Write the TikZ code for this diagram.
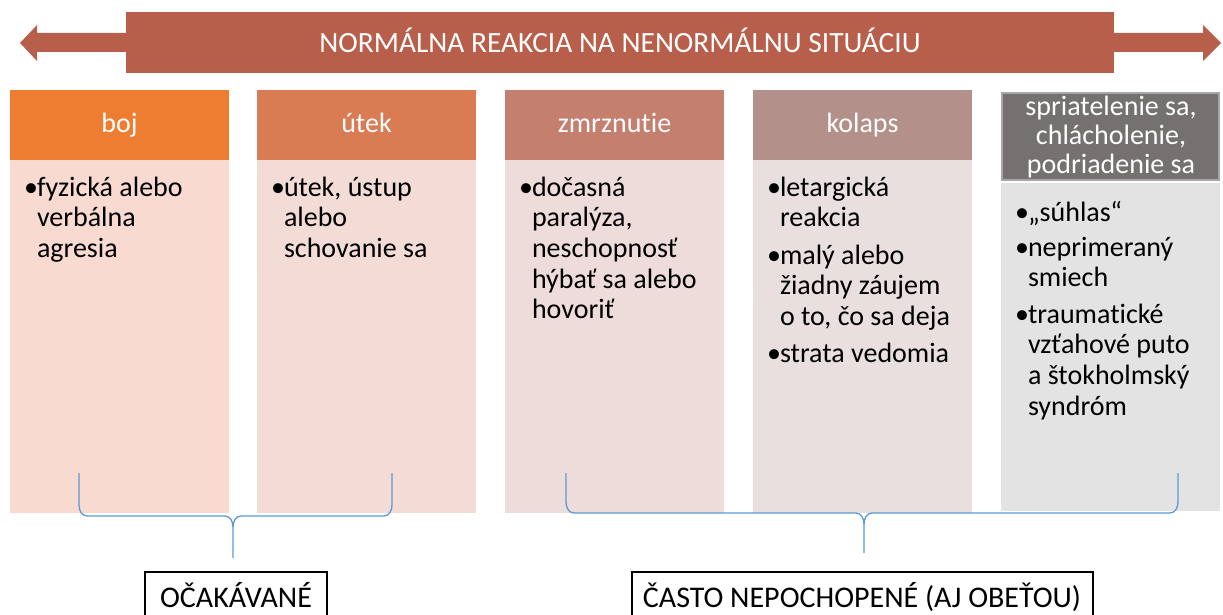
\documentclass[tikz,border=0pt]{standalone}
\usepackage{fontspec}
\setmainfont{Carlito}[Ligatures=NoCommon]
\definecolor{titlec}{HTML}{B85F4C}
\definecolor{hA}{HTML}{ED7D31}
\definecolor{hB}{HTML}{D97B53}
\definecolor{hC}{HTML}{C47F6F}
\definecolor{hD}{HTML}{B39089}
\definecolor{hE}{HTML}{767171}
\definecolor{hEb}{HTML}{A6A6A6}
\definecolor{bA}{HTML}{F8DAD1}
\definecolor{bB}{HTML}{F3DCD6}
\definecolor{bC}{HTML}{EEDCDA}
\definecolor{bD}{HTML}{E9DFDF}
\definecolor{bE}{HTML}{E3E3E3}
\definecolor{bracec}{HTML}{5B9BD5}
\newcommand\ls[1]{\begin{tabular}[t]{@{}l@{}}#1\end{tabular}}
\begin{document}
\begin{tikzpicture}[x=1pt,y=-1pt,
  every node/.style={inner sep=0pt,outer sep=0pt},
  hdr/.style={text=white,font=\fontsize{28}{29}\selectfont,minimum width=219pt,minimum height=70pt,text height=20pt,text depth=6pt},
  bodybox/.style={minimum width=219pt},
  btxt/.style={anchor=base west,font=\fontsize{28}{30.7}\selectfont,text=black},
  lbl/.style={draw=black,line width=2pt,minimum height=60pt,anchor=north},
  lbltxt/.style={anchor=base,font=\fontsize{30}{32}\selectfont},
  brc/.style={draw=bracec,line width=1.3pt},
  arrowc/.style={fill=titlec}]
\useasboundingbox (0,0) rectangle (1223,615);
% title bar with arrows
\fill[arrowc] (126,33) -- (37,33) -- (37,25) -- (20,43) -- (37,61) -- (37,52) -- (126,52) -- cycle;
\fill[arrowc] (1114,33) -- (1203,33) -- (1203,25) -- (1221,43) -- (1203,61) -- (1203,52) -- (1114,52) -- cycle;
\node[fill=titlec,minimum width=988pt,minimum height=61pt,anchor=north west] (title) at (126,12) {};
\node[text=white,anchor=base,font=\fontsize{29.4}{30}\selectfont] (titletxt) at (620,53) {NORMÁLNA REAKCIA NA NENORMÁLNU SITUÁCIU};
% bodies
\node[bodybox,fill=bA,minimum height=353pt,anchor=north west] (bodyA) at (10,160) {};
\node[bodybox,fill=bB,minimum height=353pt,anchor=north west] (bodyB) at (257,160) {};
\node[bodybox,fill=bC,minimum height=353pt,anchor=north west] (bodyC) at (505,160) {};
\node[bodybox,fill=bD,minimum height=353pt,anchor=north west] (bodyD) at (753,160) {};
\node[bodybox,fill=bE,minimum height=328pt,anchor=north west] (bodyE) at (1001,183) {};
% headers
\node[hdr,fill=hA,anchor=north west] (hdrA) at (10,90) {boj};
\node[hdr,fill=hB,anchor=north west] (hdrB) at (257,90) {útek};
\node[hdr,fill=hC,anchor=north west] (hdrC) at (505,90) {zmrznutie};
\node[hdr,fill=hD,anchor=north west] (hdrD) at (753,90) {kolaps};
\node[fill=hE,draw=hEb,line width=2pt,minimum width=217pt,minimum height=87pt,anchor=north west] (hdrE) at (1002,93) {};
\node[text=white,anchor=base,font=\fontsize{28}{29}\selectfont] (hdrEtxt) at (1111,116) {\begin{tabular}[t]{@{}c@{}}spriatelenie sa,\\chlácholenie,\\podriadenie sa\end{tabular}};
% body texts column A
\node[btxt] (bulA1) at (24,196) {•};
\node[btxt] (txtA1) at (37,196) {\ls{fyzická alebo\\verbálna\\agresia}};
% column B
\node[btxt] (bulB1) at (271,196) {•};
\node[btxt] (txtB1) at (284,196) {\ls{útek, ústup\\alebo\\schovanie sa}};
% column C
\node[btxt] (bulC1) at (519,196) {•};
\node[btxt] (txtC1) at (532,196) {\ls{dočasná\\paralýza,\\neschopnosť\\hýbať sa alebo\\hovoriť}};
% column D
\node[btxt] (bulD1) at (767,196) {•};
\node[btxt] (txtD1) at (780,196) {\ls{letargická\\reakcia}};
\node[btxt] (bulD2) at (767,264) {•};
\node[btxt] (txtD2) at (780,264) {\ls{malý alebo\\žiadny záujem\\o to, čo sa deja}};
\node[btxt] (bulD3) at (767,362) {•};
\node[btxt] (txtD3) at (780,362) {strata vedomia};
% column E
\node[btxt] (bulE1) at (1015,221) {•};
\node[btxt] (txtE1) at (1028,221) {„súhlas“};
\node[btxt] (bulE2) at (1015,256) {•};
\node[btxt] (txtE2) at (1028,256) {\ls{neprimeraný\\smiech}};
\node[btxt] (bulE3) at (1015,323) {•};
\node[btxt] (txtE3) at (1028,323) {\ls{traumatické\\vzťahové puto\\a štokholmský\\syndróm}};
% braces
\coordinate (brA1) at (79,473);
\coordinate (brA2) at (392,473);
\coordinate (brAtip) at (233,558);
\draw[brc] (brA1) -- (79,505) to[out=-90,in=180] (87,516) -- (225,516) to[out=0,in=90] (233,527) -- (brAtip);
\draw[brc] (233,527) to[out=90,in=180] (241,516) -- (384,516) to[out=0,in=-90] (392,505) -- (brA2);
\coordinate (brB1) at (566,473);
\coordinate (brB2) at (1178,473);
\coordinate (brBtip) at (864,553);
\draw[brc] (brB1) -- (566,502) to[out=-90,in=180] (574,513) -- (856,513) to[out=0,in=90] (864,524) -- (brBtip);
\draw[brc] (864,524) to[out=90,in=180] (872,513) -- (1170,513) to[out=0,in=-90] (1178,502) -- (brB2);
% labels
\node[lbl,minimum width=182pt] (lblA) at (236,572) {};
\node[lbltxt] (lblAtxt) at (236,607) {OČAKÁVANÉ};
\node[lbl,minimum width=461pt] (lblB) at (862,572) {};
\node[lbltxt] (lblBtxt) at (862,607) {ČASTO NEPOCHOPENÉ (AJ OBEŤOU)};
\end{tikzpicture}
\end{document}
